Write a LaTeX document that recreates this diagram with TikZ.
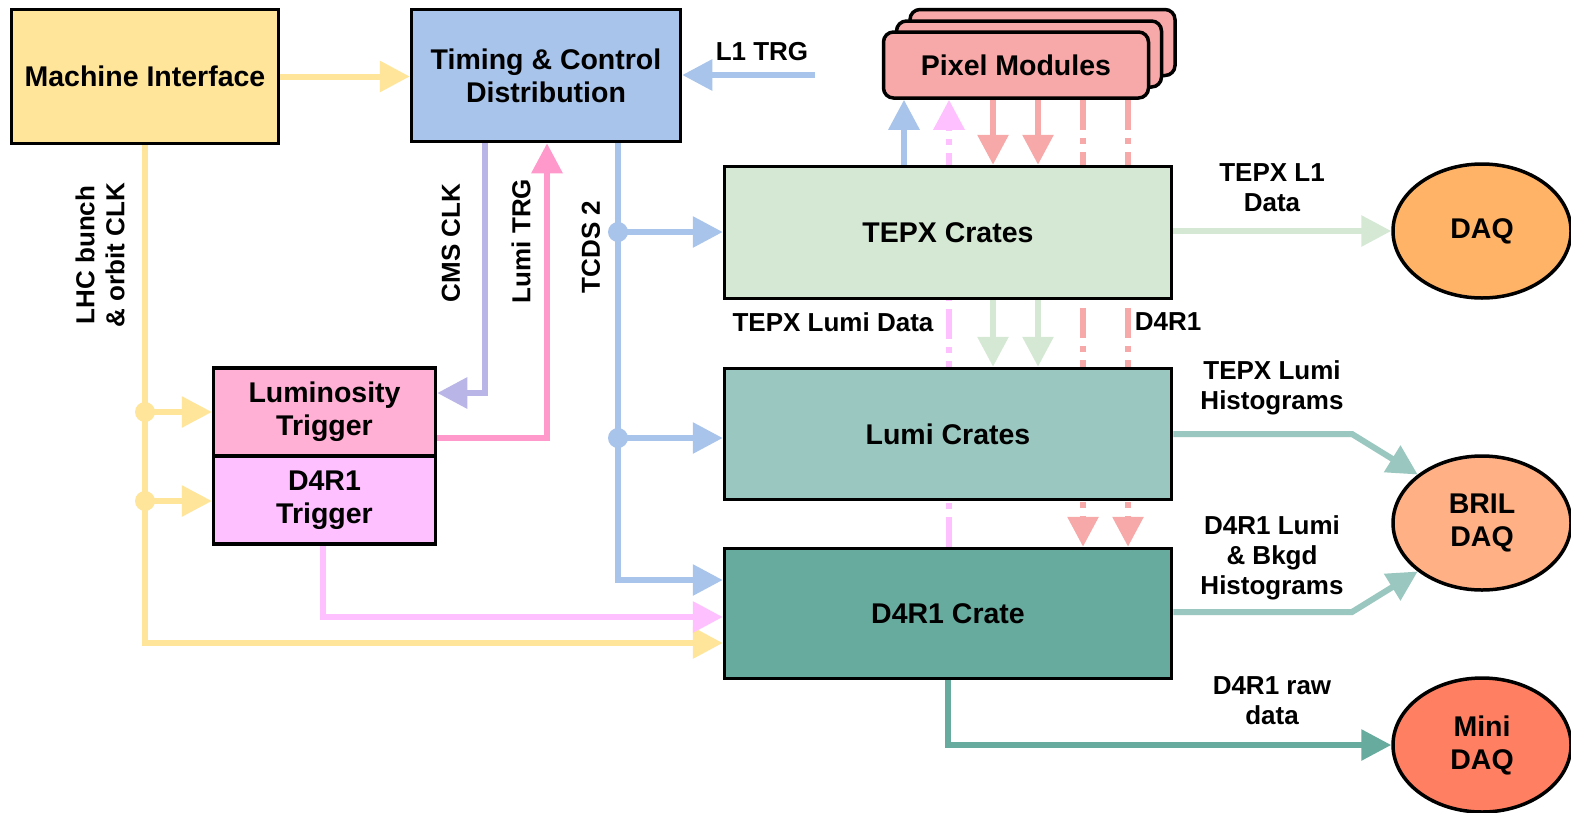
\documentclass[tikz,border=0pt]{standalone}
\usepackage{fontspec}
\setmainfont{Liberation Sans}
\usetikzlibrary{arrows.meta,shapes.geometric,backgrounds}

\definecolor{cyel}{HTML}{FFE599}
\definecolor{cblue}{HTML}{A9C4EB}
\definecolor{clav}{HTML}{B9B5E6}
\definecolor{cpink}{HTML}{FF99CC}
\definecolor{clumtrg}{HTML}{FFB0D4}
\definecolor{cmag}{HTML}{FFC0FF}
\definecolor{cpix}{HTML}{F7A8A8}
\definecolor{ctepx}{HTML}{D5E8D4}
\definecolor{clumi}{HTML}{9AC7BF}
\definecolor{cdf}{HTML}{67AB9F}
\definecolor{cdaq}{HTML}{FFB366}
\definecolor{cbril}{HTML}{FFB085}
\definecolor{cmini}{HTML}{FF7F62}

\newcommand{\bxfont}{\bfseries\fontsize{28.5}{33}\selectfont}
\newcommand{\lbfont}{\bfseries\fontsize{26}{30}\selectfont}

\begin{document}
\begin{tikzpicture}[x=1pt,y=-1pt,
  box/.style={draw=black, line width=3.5pt, inner sep=0pt, align=center, font=\bxfont},
  ell/.style={ellipse, draw=black, line width=3.5pt, minimum width=178pt, minimum height=134pt, inner sep=0pt, align=center, font=\bxfont},
  pixbox/.style={box, fill=cpix, rounded corners=10pt, minimum width=265pt, minimum height=66pt},
  lbl/.style={font=\lbfont, align=center, inner sep=0pt},
  wire/.style={line width=6pt, -{Triangle[length=30pt,width=30pt]}},
  dashdot/.style={dash pattern=on 30pt off 8pt on 6pt off 8pt},
  jdot/.style={radius=10pt}
]
\useasboundingbox (0,0) rectangle (1571,812);

% ---------- blocks ----------
\node[box, fill=cyel, minimum width=267pt, minimum height=134pt] (mi) at (145,76.5) {Machine Interface};
\node[box, fill=cblue, minimum width=269pt, minimum height=132pt] (tcd) at (546,75.5) {Timing \& Control\\Distribution};

\node[pixbox] (pixb2) at (1042.5,42.5) {};
\node[pixbox] (pixb1) at (1029,54) {};
\node[pixbox] (pix) at (1016,65) {Pixel Modules};

\node[box, fill=ctepx, minimum width=447pt, minimum height=132pt] (tepx) at (948,232.5) {TEPX Crates};
\node[box, fill=clumi, minimum width=447pt, minimum height=131pt] (lumi) at (948,434) {Lumi Crates};
\node[box, fill=cdf, minimum width=447pt, minimum height=130pt] (dfc) at (948,613.5) {D4R1 Crate};

% the two trigger halves share one divider line at y = 456
\node[box, fill=clumtrg, minimum width=222pt, minimum height=88pt] (lt) at (324.5,412) {Luminosity\\Trigger};
\node[box, fill=cmag, minimum width=222pt, minimum height=88pt] (dt) at (324.5,500) {D4R1\\Trigger};

\node[ell, fill=cdaq] (daq) at (1482,231) {DAQ};
\node[ell, fill=cbril] (bril) at (1482,523) {BRIL\\DAQ};
\node[ell, fill=cmini] (mini) at (1482,745) {Mini\\DAQ};

% ---------- labels ----------
\node[lbl] (tl1) at (762,52) {L1 TRG};
\node[lbl, rotate=90] (tlhc) at (100,255) {LHC bunch\\\& orbit CLK};
\node[lbl, rotate=90] (tcms) at (451,243) {CMS CLK};
\node[lbl, rotate=90] (tltrg) at (521,241) {Lumi TRG};
\node[lbl, rotate=90] (ttcds) at (591,247) {TCDS 2};
\node[lbl] (ttld) at (833,322) {TEPX Lumi Data};
\node[lbl] (tdf) at (1168,322) {D4R1};
\node[lbl] (tl1d) at (1272,188) {TEPX L1\\Data};
\node[lbl] (tlh) at (1272,388) {TEPX Lumi\\Histograms};
\node[lbl] (tdh) at (1272,558) {D4R1 Lumi\\\& Bkgd\\Histograms};
\node[lbl] (traw) at (1272,701) {D4R1 raw\\data};

% ---------- routing points ----------
\coordinate (l1src) at (815,75);
\coordinate (ylow) at (145,643);
\coordinate (yj1) at (145,412);
\coordinate (yj2) at (145,501);
\coordinate (cmsc) at (485,393);
\coordinate (ltrg) at (547,438);
\coordinate (tc1) at (618,232);
\coordinate (tc2) at (618,438);
\coordinate (tc3) at (618,580);
\coordinate (dtr) at (323,617);
\coordinate (px1) at (904,0);
\coordinate (px2) at (949,0);
\coordinate (px3) at (993,0);
\coordinate (px4) at (1038,0);
\coordinate (px5) at (1083,0);
\coordinate (px6) at (1128,0);
\coordinate (bk1) at (1352,434);
\coordinate (bk2) at (1352,612);

% ---------- connectors ----------
\begin{scope}[on background layer]
\fill[white] (0,0) rectangle (1571,812);

% machine interface to timing
\draw[wire, cyel] (mi.east) -- (tcd.west |- mi.east);
% L1 trigger input
\draw[wire, cblue] (l1src) -- (l1src -| tcd.east);

% LHC clock distribution
\draw[wire, cyel] (mi.south) |- (dfc.west |- ylow);
\draw[wire, cyel] (yj1) -- (yj1 -| lt.west);
\draw[wire, cyel] (yj2) -- (yj2 -| dt.west);
\fill[cyel] (yj1) circle[jdot];
\fill[cyel] (yj2) circle[jdot];

% CMS clock and lumi trigger
\draw[wire, clav] (cmsc |- tcd.south) |- (lt.east |- cmsc);
\draw[wire, cpink] (lt.east |- ltrg) -| (ltrg |- tcd.south);

% TCDS 2
\draw[wire, cblue] (tc1 |- tcd.south) |- (dfc.west |- tc3);
\draw[wire, cblue] (tc1) -- (tc1 -| tepx.west);
\draw[wire, cblue] (tc2) -- (tc2 -| lumi.west);
\fill[cblue] (tc1) circle[jdot];
\fill[cblue] (tc2) circle[jdot];

% D4R1 trigger to crate
\draw[wire, cmag] (dtr |- dt.south) |- (dfc.west |- dtr);

% pixel module links
\draw[wire, cblue] (tepx.north -| px1) -- (pix.south -| px1);
\draw[wire, cmag, dashdot] (dfc.north -| px2) -- (pix.south -| px2);
\draw[wire, cpix] (pix.south -| px3) -- (tepx.north -| px3);
\draw[wire, cpix] (pix.south -| px4) -- (tepx.north -| px4);
\draw[wire, cpix, dashdot] (pix.south -| px5) -- (dfc.north -| px5);
\draw[wire, cpix, dashdot] (pix.south -| px6) -- (dfc.north -| px6);

% TEPX lumi data to lumi crates
\draw[wire, ctepx] (tepx.south -| px3) -- (lumi.north -| px3);
\draw[wire, ctepx] (tepx.south -| px4) -- (lumi.north -| px4);

% outputs
\draw[wire, ctepx] (tepx.east |- daq.west) -- (daq.west);
\draw[wire, clumi] (lumi.east |- bk1) -- (bk1) -- (bril.143);
\draw[wire, clumi] (dfc.east |- bk2) -- (bk2) -- (bril.217);
\draw[wire, cdf] (dfc.south) |- (mini.west);
\end{scope}
\end{tikzpicture}
\end{document}
